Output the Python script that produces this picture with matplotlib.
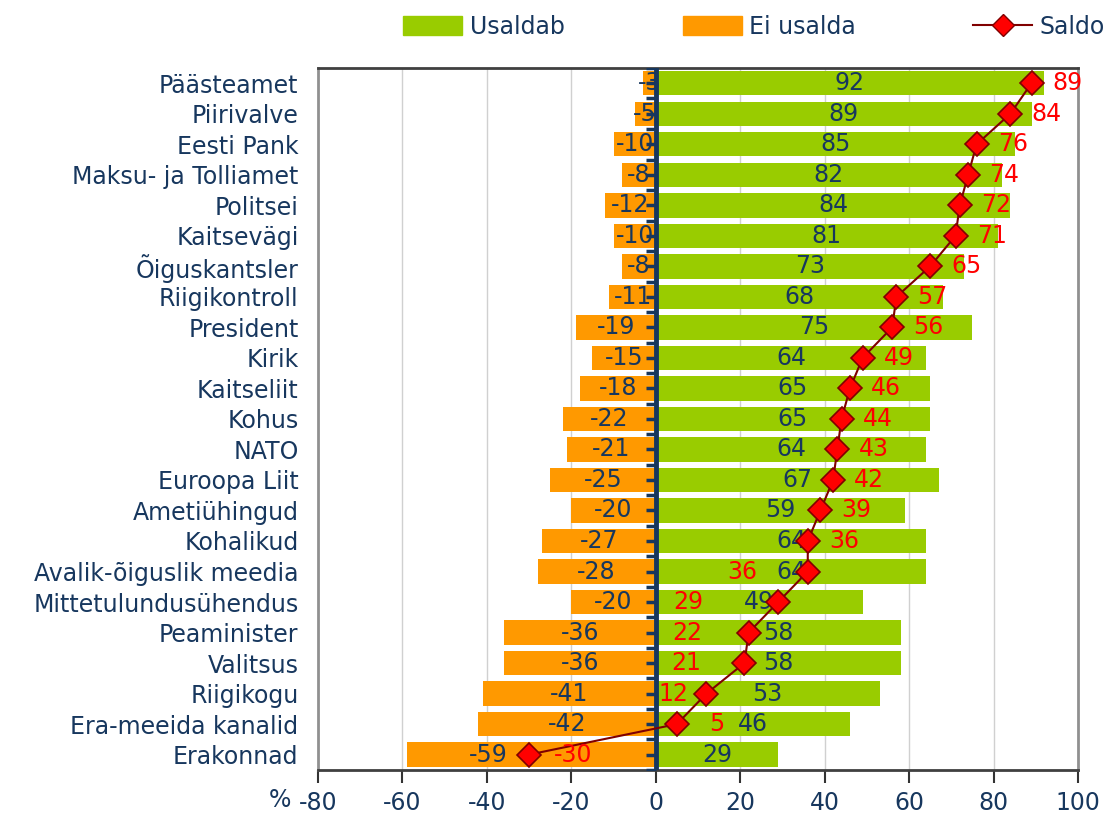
import matplotlib
matplotlib.use('Agg')
import matplotlib.pyplot as plt
from matplotlib.patches import Patch
from matplotlib.lines import Line2D
import numpy as np

# data, top to bottom as in the chart
categories = ['Päästeamet', 'Piirivalve', 'Eesti Pank', 'Maksu- ja Tolliamet',
              'Politsei', 'Kaitsevägi', 'Õiguskantsler', 'Riigikontroll',
              'President', 'Kirik', 'Kaitseliit', 'Kohus', 'NATO',
              'Euroopa Liit', 'Ametiühingud', 'Kohalikud',
              'Avalik-õiguslik meedia', 'Mittetulundusühendus', 'Peaminister',
              'Valitsus', 'Riigikogu', 'Era-meeida kanalid', 'Erakonnad']
usaldab = [92, 89, 85, 82, 84, 81, 73, 68, 75, 64, 65, 65, 64, 67, 59, 64,
           64, 49, 58, 58, 53, 46, 29]
ei_usalda = [-3, -5, -10, -8, -12, -10, -8, -11, -19, -15, -18, -22, -21,
             -25, -20, -27, -28, -20, -36, -36, -41, -42, -59]
saldo = [89, 84, 76, 74, 72, 71, 65, 57, 56, 49, 46, 44, 43, 42, 39, 36,
         36, 29, 22, 21, 12, 5, -30]
xticks = [-80, -60, -40, -20, 0, 20, 40, 60, 80, 100]

# label placement tweaks (points)
saldo_dx = [26] * len(saldo)
saldo_dx[16] = -47
saldo_dx[17] = -65
saldo_dx[18] = -44
saldo_dx[19] = -42
saldo_dx[20] = -24
saldo_dx[21] = 29
saldo_dx[22] = 32
ei_dx = [0] * len(ei_usalda)
ei_dx[22] = -31

navy = '#17375E'
green = '#99CC00'
orange = '#FF9900'
fs = 17

fig = plt.figure(figsize=(11.09, 8.19), dpi=100)
ax = fig.add_axes([0.2868, 0.06, 0.6852, 0.857])

y = np.arange(len(categories))
ax.barh(y, usaldab, height=0.8, color=green, zorder=2)
ax.barh(y, ei_usalda, height=0.8, color=orange, zorder=2)
ax.plot(saldo, y, color='#800000', lw=1.5, marker='D', markersize=12,
        markerfacecolor='#FF0000', markeredgecolor='#800000', mew=1.2, zorder=5)

for i in range(len(categories)):
    ax.text(usaldab[i] / 2, y[i], str(usaldab[i]), ha='center', va='center',
            color=navy, fontsize=fs, zorder=4)
    ax.annotate(str(ei_usalda[i]), (ei_usalda[i] / 2, y[i]), xytext=(ei_dx[i], 0),
                textcoords='offset points', ha='center', va='center',
                color=navy, fontsize=fs, zorder=4)
    ax.annotate(str(saldo[i]), (saldo[i], y[i]), xytext=(saldo_dx[i], 0),
                textcoords='offset points', ha='center', va='center',
                color='#FF0000', fontsize=fs, zorder=6)

# zero line with its own ticks
ax.axvline(0, color=navy, lw=3.5, zorder=3)
ticks_y = np.arange(-0.5, len(categories), 0.5)
ax.plot(np.zeros(len(ticks_y)), ticks_y, linestyle='none', marker=0,
        markersize=7, mew=2.5, color=navy, zorder=3)

ax.set_xlim(-80, 100)
ax.set_ylim(len(categories) - 0.5, -0.5)
ax.set_yticks(y)
ax.set_yticklabels(categories, fontsize=fs, color=navy)
ax.tick_params(axis='y', length=0, pad=14)
ax.set_xticks(xticks)
ax.set_xticklabels([str(t) for t in xticks], fontsize=fs, color=navy)
ax.tick_params(axis='x', length=9, width=1.5, color='#333333', pad=6, direction='out')
ax.grid(axis='x', color='#D0D0D0', lw=1, zorder=0)
ax.set_axisbelow(True)
for side in ['top', 'bottom']:
    ax.spines[side].set_color('#404040')
    ax.spines[side].set_linewidth(2)
for side in ['left', 'right']:
    ax.spines[side].set_color('#909090')
    ax.spines[side].set_linewidth(2)

fig.text(0.252, 0.023, '%', fontsize=fs, color=navy, ha='center', va='center')

handles = [Patch(color=green), Patch(color=orange),
           Line2D([], [], color='#800000', lw=1.5, marker='D', markersize=11,
                  markerfacecolor='#FF0000', markeredgecolor='#800000')]
fig.legend(handles, ['Usaldab', 'Ei usalda', 'Saldo'], loc='upper center',
           bbox_to_anchor=(0.68, 1.008), ncol=3, frameon=False, fontsize=fs,
           handlelength=2.5, handleheight=0.8, handletextpad=0.3,
           columnspacing=5.0, labelcolor=navy)

fig.savefig('out.png', dpi=100)
